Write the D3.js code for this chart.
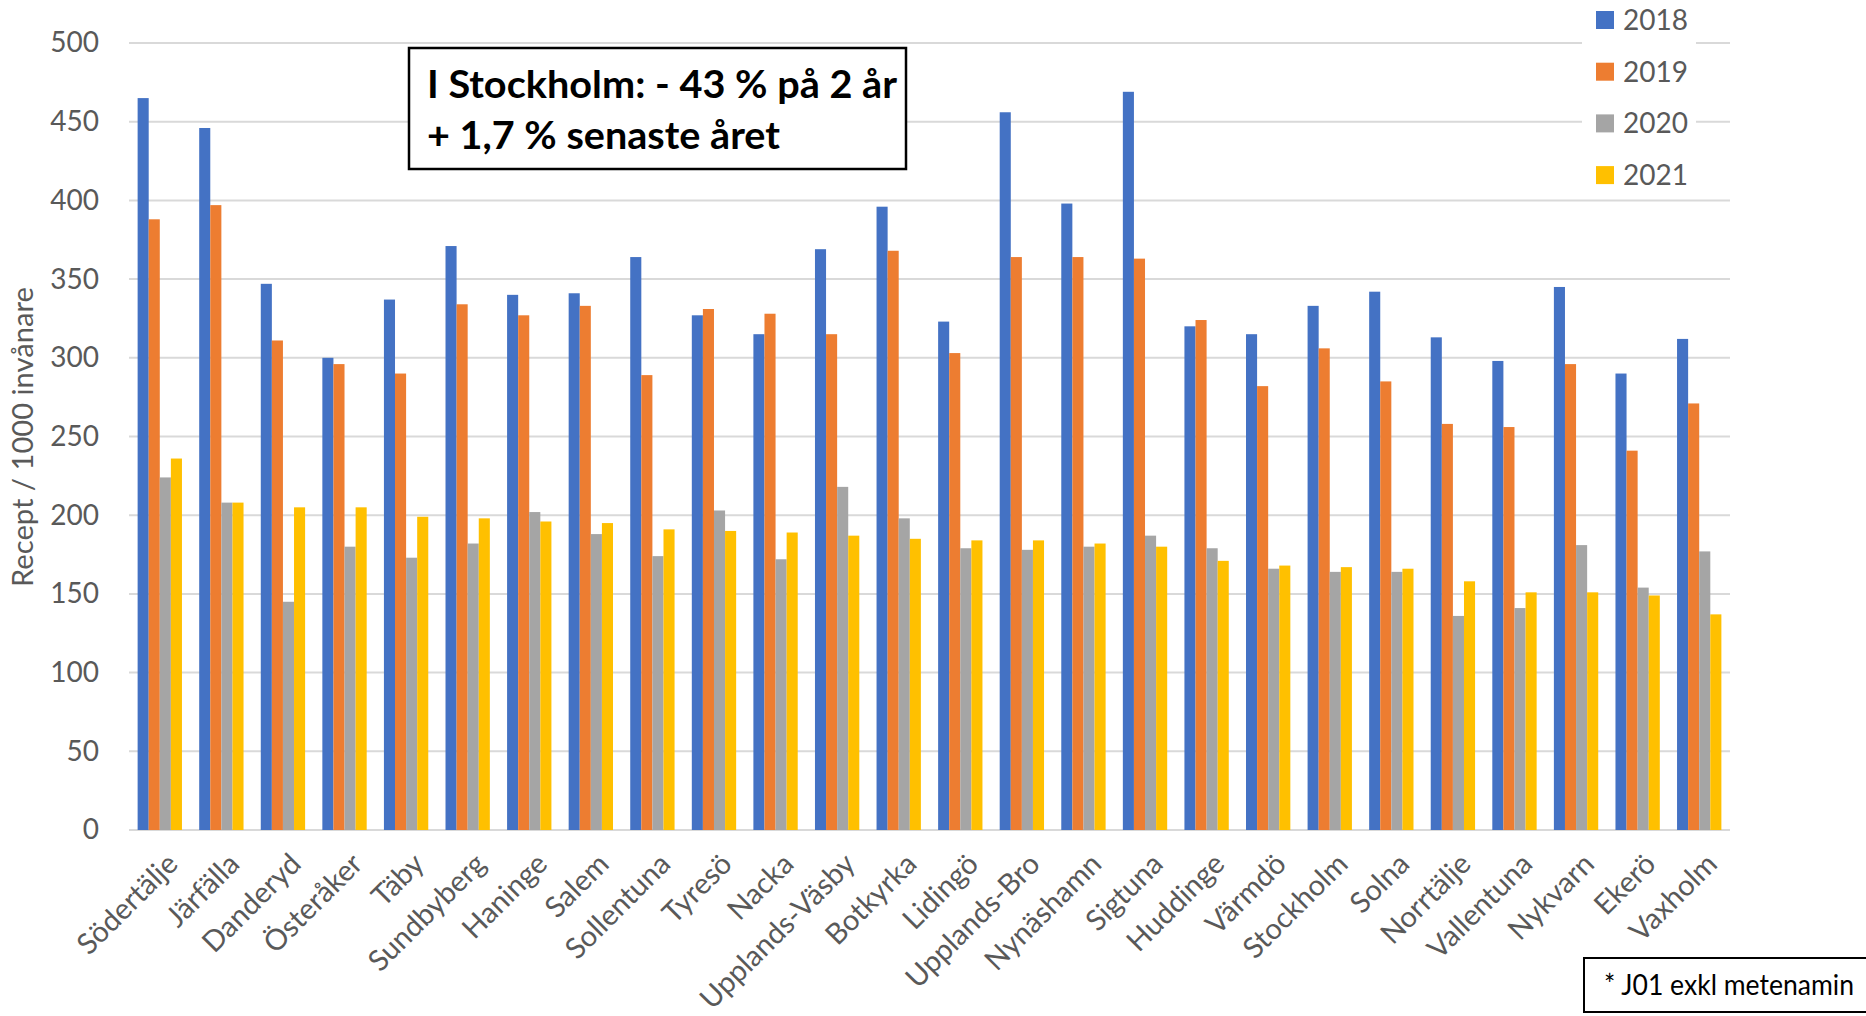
<!DOCTYPE html>
<html>
<head>
<meta charset="utf-8">
<script src="https://cdn.jsdelivr.net/npm/d3@7"></script>
<style>
  body { margin: 0; background: #fff; }
  svg { display: block; }
</style>
</head>
<body>
<script>
var kommuner = ["Södertälje", "Järfälla", "Danderyd", "Österåker", "Täby", "Sundbyberg",
    "Haninge", "Salem", "Sollentuna", "Tyresö", "Nacka", "Upplands-Väsby", "Botkyrka",
    "Lidingö", "Upplands-Bro", "Nynäshamn", "Sigtuna", "Huddinge", "Värmdö", "Stockholm",
    "Solna", "Norrtälje", "Vallentuna", "Nykvarn", "Ekerö", "Vaxholm"];

var years = ["2018", "2019", "2020", "2021"];

var values2018 = [465, 446, 347, 300, 337, 371, 340, 341, 364, 327, 315, 369, 396,
    323, 456, 398, 469, 320, 315, 333, 342, 313, 298, 345, 290, 312];
var values2019 = [388, 397, 311, 296, 290, 334, 327, 333, 289, 331, 328, 315, 368,
    303, 364, 364, 363, 324, 282, 306, 285, 258, 256, 296, 241, 271];
var values2020 = [224, 208, 145, 180, 173, 182, 202, 188, 174, 203, 172, 218, 198,
    179, 178, 180, 187, 179, 166, 164, 164, 136, 141, 181, 154, 177];
var values2021 = [236, 208, 205, 205, 199, 198, 196, 195, 191, 190, 189, 187, 185,
    184, 184, 182, 180, 171, 168, 167, 166, 158, 151, 151, 149, 137];

var yTicks = [0, 50, 100, 150, 200, 250, 300, 350, 400, 450, 500];
var yTitle = "Recept / 1000 invånare";
var noteLines = ["I Stockholm: - 43 % på 2 år", "+ 1,7 % senaste året"];
var footnote = "* J01 exkl metenamin";

var colors = ["#4472C4", "#ED7D31", "#A5A5A5", "#FFC000"];
var series = [values2018, values2019, values2020, values2021];

var width = 1866;
var height = 1016;
var font = "Lato, 'Open Sans', sans-serif";

var svg = d3.select("body")
    .append("svg")
    .attr("width", width)
    .attr("height", height);

var x0 = d3.scaleBand()
    .domain(kommuner)
    .range([129, 1730])
    .paddingInner(0.28)
    .paddingOuter(0.14);

var x1 = d3.scaleBand()
    .domain(years)
    .range([0, x0.bandwidth()]);

var y = d3.scaleLinear()
    .domain([0, 500])
    .range([830, 43]);

// gridlines + y labels
svg.append("g")
    .selectAll("line")
    .data(yTicks)
    .enter()
    .append("line")
    .attr("x1", 129)
    .attr("x2", 1730)
    .attr("y1", function (d) { return y(d); })
    .attr("y2", function (d) { return y(d); })
    .attr("stroke", "#d9d9d9")
    .attr("stroke-width", 2);

var yAxis = svg.append("g")
    .attr("transform", "translate(99,0)")
    .call(d3.axisLeft(y).tickValues(yTicks).tickSize(0).tickPadding(0));
yAxis.select(".domain").remove();
yAxis.selectAll("text")
    .style("font-family", font)
    .style("font-size", "28px")
    .attr("fill", "#595959");

svg.append("text")
    .attr("transform", "translate(33,437) rotate(-90)")
    .attr("text-anchor", "middle")
    .attr("textLength", 300)
    .attr("lengthAdjust", "spacingAndGlyphs")
    .style("font-family", font)
    .style("font-size", "28px")
    .attr("fill", "#595959")
    .text(yTitle);

// bars
var rows = kommuner.map(function (k, i) {
    return { name: k, vals: series.map(function (s) { return s[i]; }) };
});

var groups = svg.append("g")
    .selectAll("g")
    .data(rows)
    .enter()
    .append("g")
    .attr("transform", function (d) { return "translate(" + x0(d.name) + ",0)"; });

groups.selectAll("rect")
    .data(function (d) { return d.vals; })
    .enter()
    .append("rect")
    .attr("x", function (d, i) { return x1(years[i]); })
    .attr("y", function (d) { return y(d); })
    .attr("width", x1.bandwidth())
    .attr("height", function (d) { return y(0) - y(d); })
    .attr("fill", function (d, i) { return colors[i]; });

// category labels, rotated
svg.append("g")
    .selectAll("text")
    .data(kommuner)
    .enter()
    .append("text")
    .attr("transform", function (d) {
        return "translate(" + (x0(d) + x0.bandwidth() / 2 + 5) + ",851) rotate(-45)";
    })
    .attr("text-anchor", "end")
    .attr("dy", "0.72em")
    .style("font-family", font)
    .style("font-size", "29px")
    .attr("fill", "#595959")
    .text(function (d) { return d; });

// legend
svg.append("rect")
    .attr("x", 1582)
    .attr("y", 0)
    .attr("width", 114)
    .attr("height", 199)
    .attr("fill", "#fff");

var legend = svg.append("g")
    .selectAll("g")
    .data(years)
    .enter()
    .append("g")
    .attr("transform", function (d, i) { return "translate(1596," + (20 + i * 51.7) + ")"; });

legend.append("rect")
    .attr("x", 0)
    .attr("y", -9)
    .attr("width", 18)
    .attr("height", 18)
    .attr("fill", function (d, i) { return colors[i]; });

legend.append("text")
    .attr("x", 27)
    .attr("y", 10)
    .style("font-family", font)
    .style("font-size", "28px")
    .attr("fill", "#595959")
    .text(function (d) { return d; });

// annotation box
svg.append("rect")
    .attr("x", 409)
    .attr("y", 48)
    .attr("width", 497)
    .attr("height", 121)
    .attr("fill", "#fff")
    .attr("stroke", "#000")
    .attr("stroke-width", 2.5);

svg.append("g")
    .selectAll("text")
    .data(noteLines)
    .enter()
    .append("text")
    .attr("x", 427)
    .attr("y", function (d, i) { return 98 + i * 51; })
    .attr("textLength", function (d, i) { return i == 0 ? 470 : 353; })
    .attr("lengthAdjust", "spacingAndGlyphs")
    .style("font-family", font)
    .style("font-weight", "bold")
    .style("font-size", "38px")
    .attr("fill", "#000")
    .text(function (d) { return d; });

// footnote box
svg.append("rect")
    .attr("x", 1584)
    .attr("y", 958)
    .attr("width", 290)
    .attr("height", 54)
    .attr("fill", "#fff")
    .attr("stroke", "#000")
    .attr("stroke-width", 2);

svg.append("text")
    .attr("x", 1604)
    .attr("y", 995)
    .attr("textLength", 250)
    .attr("lengthAdjust", "spacingAndGlyphs")
    .style("font-family", font)
    .style("font-size", "29px")
    .attr("fill", "#000")
    .text(footnote);
</script>
</body>
</html>
